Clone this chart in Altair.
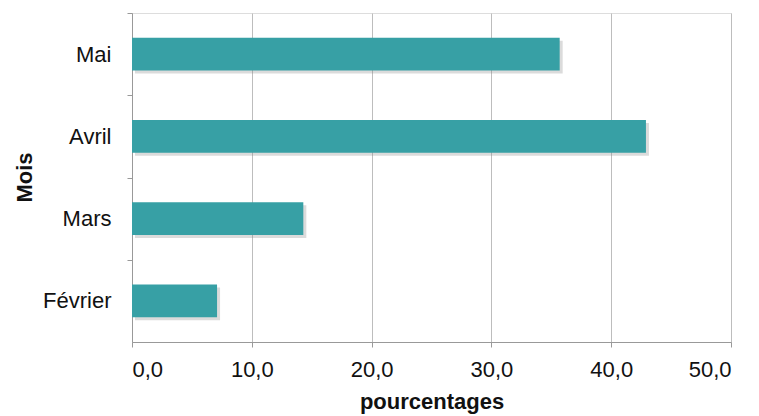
import altair as alt
import pandas as pd

mois = ["Mai", "Avril", "Mars", "Février"]
pourcentages = [35.7, 42.9, 14.3, 7.1]

df = pd.DataFrame({"Mois": mois, "pourcentages": pourcentages})

FONT = "Liberation Sans"
STEP = 329 / 4

y_enc = alt.Y(
    "Mois:N",
    sort=mois,
    scale=alt.Scale(paddingInner=0.6, paddingOuter=0.3),
    axis=alt.Axis(
        title="Mois",
        titleFont=FONT,
        titleFontSize=22,
        titleFontWeight="bold",
        titleColor="#111111",
        titleAngle=-90,
        titleX=-108,
        titleY=164,
        titleAlign="center",
        titleBaseline="middle",
        labelFont=FONT,
        labelFontSize=22,
        labelColor="#111111",
        labelPadding=16,
        labelOffset=STEP / 2,
        tickSize=5,
        tickOffset=-STEP / 2,
        tickColor="#999999",
        domainColor="#999999",
        grid=False,
    ),
)

x_enc = alt.X(
    "pourcentages:Q",
    scale=alt.Scale(domain=[0, 50], nice=False),
    axis=alt.Axis(
        title="pourcentages",
        titleFont=FONT,
        titleFontSize=22,
        titleFontWeight="bold",
        titleColor="#111111",
        titleBaseline="alphabetic",
        titleY=66,
        values=[0, 10, 20, 30, 40, 50],
        labelExpr="replace(format(datum.value, '.1f'), '.', ',')",
        labelFont=FONT,
        labelFontSize=22,
        labelColor="#111111",
        labelPadding=12,
        tickSize=5,
        tickColor="#999999",
        domainColor="#999999",
        grid=True,
        gridColor="#bdbdbd",
        gridWidth=1,
    ),
)

shadow = alt.Chart(df).mark_bar(
    color="#888888", opacity=0.3, xOffset=3, x2Offset=3, yOffset=3, y2Offset=3
).encode(x=x_enc, y=y_enc)

bars = alt.Chart(df).mark_bar(color="#37a0a5").encode(x=x_enc, y=y_enc)

chart = (
    alt.layer(shadow, bars)
    .properties(
        width=599,
        height=329,
        autosize=alt.AutoSizeParams(type="none"),
        padding={"left": 124, "top": 5, "right": 20, "bottom": 80},
    )
    .configure_view(stroke=None)
    .configure(background="white")
)

chart.save("out.html", embed_options={"renderer": "svg", "actions": False})
